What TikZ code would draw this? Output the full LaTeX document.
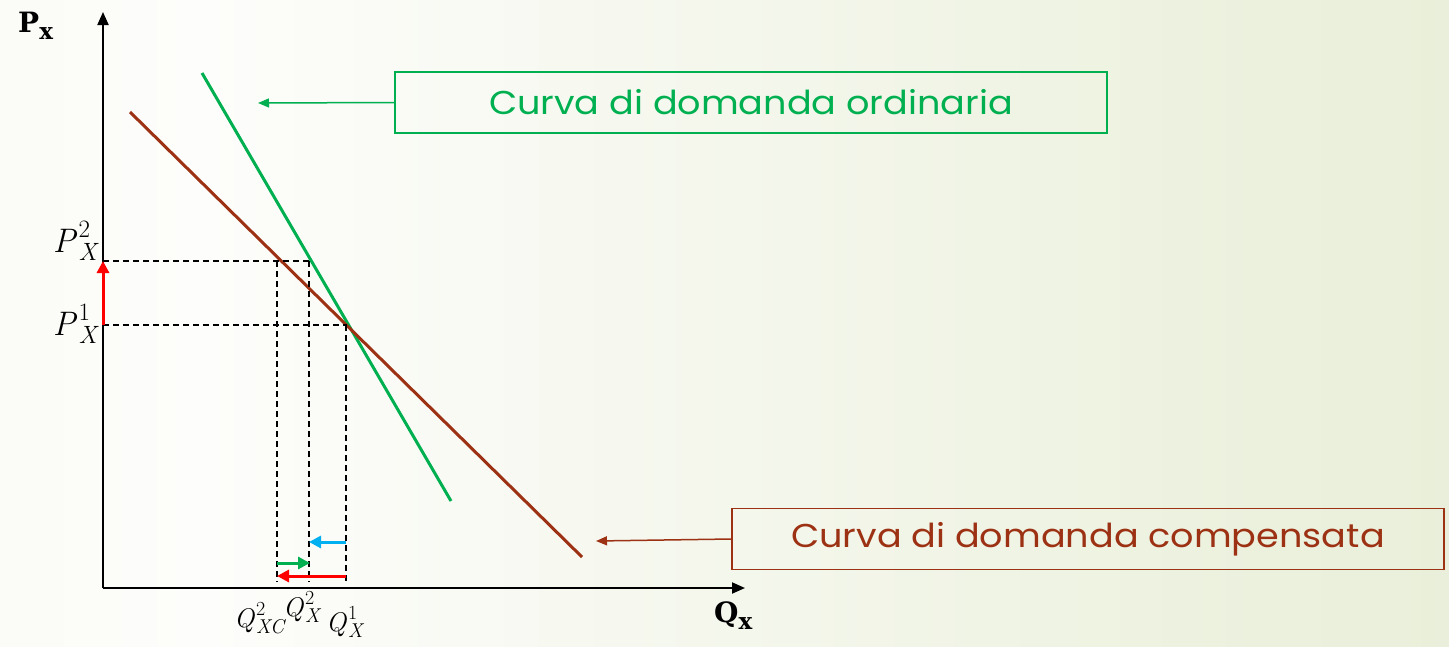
\documentclass[tikz,border=0pt]{standalone}
\usepackage{fontspec}
\newfontfamily\labelfont[FakeStretch=1.11]{Poppins}
\newfontfamily\axisfont{DejaVu Serif}
\usetikzlibrary{arrows.meta}
\definecolor{ordgreen}{HTML}{00B050}
\definecolor{compbrown}{HTML}{9C3113}
\definecolor{shiftblue}{HTML}{00B0F0}
\definecolor{shiftred}{HTML}{FF0000}
\definecolor{bgleft}{HTML}{F3F5EA}
\definecolor{bgmid}{HTML}{FDFDFB}
\definecolor{bgright}{HTML}{DFE8C8}
\pgfdeclarehorizontalshading{bgshade}{100bp}{color(0bp)=(bgleft); color(32bp)=(bgmid); color(60bp)=(bgmid!55!bgright); color(100bp)=(bgright)}
% #1 script size, #2 letter, #3 subscript, #4 superscript
\newcommand\mylab[4]{\textit{#2}\kern0.04em\makebox[0pt][l]{\raisebox{0.42em}{\fontsize{#1}{#1}\selectfont #4}}\raisebox{-0.24em}{\fontsize{#1}{#1}\selectfont\itshape #3}}
\tikzset{
  axisline/.style={line width=2pt,-{Triangle[length=13pt,width=11pt]}},
  curveline/.style={line width=3pt},
  guideline/.style={line width=1.3pt,dash pattern=on 6pt off 4pt},
  movearrow/.style={line width=3pt,-{Triangle[length=12pt,width=12pt]}},
  labelbox/.style={draw,line width=1.5pt,minimum width=712pt,minimum height=61pt,inner sep=0pt,font=\labelfont\fontsize{33}{38}\selectfont},
  boxarrow/.style={line width=1.5pt,-{Triangle[length=11pt,width=9pt]}},
  mathlab/.style={inner sep=0pt,font=\fontsize{34}{38}\selectfont},
  qlab/.style={inner sep=0pt,font=\fontsize{27}{30}\selectfont},
  axislab/.style={inner sep=0pt,font=\axisfont\bfseries\fontsize{28}{32}\selectfont},
}
\begin{document}
\begin{tikzpicture}[x=1pt,y=-1pt]
\useasboundingbox (0,0) rectangle (1449,646);
\shade[shading=bgshade] (0,0) rectangle (1449,646);
% axes
\coordinate (O) at (103,588);
\coordinate (ytop) at (103,12);
\coordinate (xend) at (745,588);
\draw[axisline] (O) -- (ytop);
\draw[axisline] (O) -- (xend);
\node[axislab,anchor=north west] (px) at (18,12) {P\raisebox{-7pt}{\fontsize{23}{24}\selectfont x}};
\node[axislab,anchor=north west] (qx) at (714,602) {Q\raisebox{-7pt}{\fontsize{23}{24}\selectfont x}};
% curves
\coordinate (g1) at (202,73);
\coordinate (g2) at (451,501);
\coordinate (b1) at (130,112);
\coordinate (b2) at (582,557);
\draw[curveline,ordgreen] (g1) -- (g2);
\draw[curveline,compbrown] (b1) -- (b2);
% guides
\coordinate (p2) at (103,261);
\coordinate (p1) at (103,325);
\coordinate (h2) at (309,261);
\coordinate (e) at (347,325);
\coordinate (e1) at (346,325);
\coordinate (qc) at (277,261);
\coordinate (qcb) at (277,582);
\coordinate (q2b) at (309,582);
\coordinate (q1b) at (346,582);
\draw[guideline] (p2) -- (h2);
\draw[guideline] (p1) -- (e);
\draw[guideline] (qc) -- (qcb);
\draw[guideline] (h2) -- (q2b);
\draw[guideline] (e1) -- (q1b);
% shift arrows
\coordinate (bl1) at (346,542);
\coordinate (bl2) at (309,542);
\coordinate (gr1) at (277,563);
\coordinate (gr2) at (310,563);
\coordinate (rd1) at (346,576);
\coordinate (rd2) at (277,576);
\draw[movearrow,shiftblue] (bl1) -- (bl2);
\draw[movearrow,ordgreen] (gr1) -- (gr2);
\draw[movearrow,shiftred] (rd1) -- (rd2);
\draw[movearrow,shiftred] (p1) -- (p2);
% price labels
\node[mathlab,anchor=base east] (lp2) at (97,252) {\mylab{25}{P}{X}{2}};
\node[mathlab,anchor=base east] (lp1) at (97,335) {\mylab{25}{P}{X}{1}};
% quantity labels
\node[qlab,anchor=base west] (lqc) at (234,627) {\mylab{20}{Q}{XC}{2}};
\node[qlab,anchor=base west] (lq2) at (283,616) {\mylab{20}{Q}{X}{2}};
\node[qlab,anchor=base west] (lq1) at (326,631) {\mylab{20}{Q}{X}{1}};
% label boxes
\node[labelbox,draw=ordgreen,text=ordgreen] (gbox) at (751,102.5) {Curva di domanda ordinaria};
\node[labelbox,draw=compbrown,text=compbrown] (bbox) at (1088,539) {Curva di domanda compensata};
\coordinate (gtip) at (258,103);
\coordinate (btip) at (596,541);
\draw[boxarrow,ordgreen] (gbox.west) -- (gtip);
\draw[boxarrow,compbrown] (bbox.west) -- (btip);
\end{tikzpicture}
\end{document}
